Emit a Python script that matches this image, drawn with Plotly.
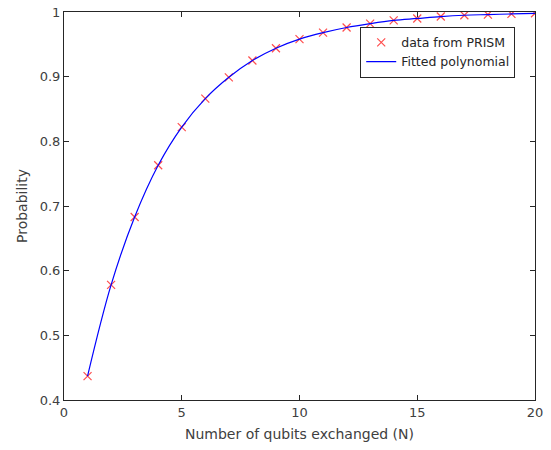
import plotly.graph_objects as go

N = list(range(1, 21))
prob = [0.437, 0.578, 0.683, 0.763, 0.822, 0.866, 0.899, 0.925, 0.944, 0.958,
        0.968, 0.976, 0.982, 0.987, 0.990, 0.993, 0.995, 0.996, 0.997, 0.998]
x_ticks = [0, 5, 10, 15, 20]
y_ticks = [0.4, 0.5, 0.6, 0.7, 0.8, 0.9, 1.0]
y_tick_labels = ["0.4", "0.5", "0.6", "0.7", "0.8", "0.9", "1"]

fig = go.Figure()
fig.add_trace(go.Scatter(x=N, y=prob, mode="markers", name="data from PRISM",
                         marker=dict(symbol="x-thin", size=8, color="#ff4d4d",
                                     line=dict(width=1.2, color="#ff4d4d"))))
fig.add_trace(go.Scatter(x=N, y=prob, mode="lines", name="Fitted polynomial",
                         line=dict(color="#0000ff", width=1.2, shape="spline")))

axis_common = dict(showgrid=False, zeroline=False, showline=True, mirror="ticks",
                   linecolor="#262626", linewidth=1, ticks="inside", ticklen=5,
                   tickcolor="#262626", automargin=False,
                   tickfont=dict(size=13, color="#404040"))
fig.update_layout(
    width=551, height=450,
    margin=dict(l=64, r=16, t=12, b=50),
    plot_bgcolor="white", paper_bgcolor="white",
    font=dict(family="DejaVu Sans", color="#404040"),
    xaxis=dict(range=[0, 20], tickvals=x_ticks,
               title=dict(text="Number of qubits exchanged (N)", font=dict(size=14), standoff=10),
               **axis_common),
    yaxis=dict(range=[0.4, 1.0], tickvals=y_ticks, ticktext=y_tick_labels,
               title=dict(text="Probability", font=dict(size=14), standoff=8),
               **axis_common),
    legend=dict(x=0.958, y=0.962, xanchor="right", yanchor="top",
                bgcolor="white", bordercolor="#262626", borderwidth=1,
                font=dict(size=12.5, color="#262626"), tracegroupgap=0,
                itemwidth=30),
    showlegend=True,
)
fig.write_html("out.html")
